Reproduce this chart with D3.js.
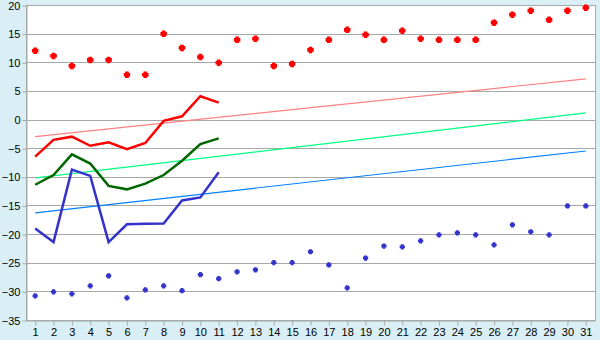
<!DOCTYPE html>
<html>
<head>
<meta charset="utf-8">
<script src="https://cdn.jsdelivr.net/npm/d3@7"></script>
<style>
  body { margin: 0; background: #d9eff5; }
  svg { display: block; font-family: "DejaVu Sans", Verdana, sans-serif; }
  .axis text { font-size: 11px; fill: #000; }
  .axis line, .axis path { stroke: #a8a8a8; }
</style>
</head>
<body>
<div id="chart"></div>
<script>
// days 1..31
const days = d3.range(1, 32);
const yTicks = [-35, -30, -25, -20, -15, -10, -5, 0, 5, 10, 15, 20];

// daily highs (scatter, red)
const redDots = [12.1, 11.2, 9.45, 10.5, 10.5, 7.9, 7.9, 15.05, 12.6, 11.0, 10.0,
  14.0, 14.2, 9.45, 9.8, 12.25, 14.0, 15.75, 14.9, 14.0, 15.6, 14.2, 14.0, 14.0,
  14.0, 17.0, 18.4, 19.1, 17.5, 19.1, 19.6];
// daily lows (scatter, blue)
const blueDots = [-30.7, -30.0, -30.35, -28.95, -27.2, -31.05, -29.65, -28.95, -29.8,
  -27.0, -27.7, -26.5, -26.15, -24.9, -24.9, -23.0, -25.3, -29.3, -24.1, -22.0,
  -22.15, -21.1, -20.05, -19.7, -20.05, -21.8, -18.3, -19.5, -20.05, -15.0, -15.0];

// lines for days 1..11
const redLine = [-6.4, -3.45, -2.9, -4.5, -3.9, -5.1, -4.0, -0.15, 0.65, 4.15, 3.05];
const greenLine = [-11.3, -9.6, -6.0, -7.6, -11.5, -12.1, -11.1, -9.6, -7.1, -4.2, -3.2];
const blueLine = [-18.95, -21.3, -8.65, -9.75, -21.3, -18.2, -18.1, -18.05, -14.05, -13.5, -9.1];

// trend lines: value at day 1 and day 31
const pinkTrend = [-2.9, 7.2];
const greenTrend = [-10.1, 1.25];
const blueTrend = [-16.2, -5.4];

const width = 600, height = 340;
const margin = { top: 5, right: 5, bottom: 20, left: 26 };

const svg = d3.select('#chart').append('svg')
  .attr('width', width)
  .attr('height', height);

const xScale = d3.scalePoint()
  .domain(days)
  .range([margin.left, width - margin.right])
  .padding(0.5);

const yScale = d3.scaleLinear()
  .domain([-35, 20])
  .range([height - margin.bottom + 0.5, margin.top + 0.5]);

// plot background
svg.append('rect')
  .attr('x', margin.left + 0.5)
  .attr('y', margin.top + 0.5)
  .attr('width', width - margin.right - margin.left)
  .attr('height', height - margin.bottom - margin.top)
  .attr('fill', '#fff')
  .attr('stroke', '#a8a8a8');

// gridlines
svg.append('g')
  .selectAll('line')
  .data(yTicks)
  .join('line')
  .attr('x1', margin.left + 0.5)
  .attr('x2', width - margin.right + 0.5)
  .attr('y1', (d) => Math.round(yScale(d) - 0.5) + 0.5)
  .attr('y2', (d) => Math.round(yScale(d) - 0.5) + 0.5)
  .attr('stroke', '#a8a8a8');

// axes
svg.append('g')
  .attr('class', 'axis')
  .attr('transform', `translate(${margin.left + 0.5},0)`)
  .call(d3.axisLeft(yScale).tickValues(yTicks).tickSize(4).tickSizeOuter(0).tickPadding(2));

svg.append('g')
  .attr('class', 'axis')
  .attr('transform', `translate(0,${height - margin.bottom + 0.5})`)
  .call(d3.axisBottom(xScale).tickSize(5).tickSizeOuter(0).tickPadding(3));

// trend lines
const trends = [
  { vals: pinkTrend, color: '#ff8080' },
  { vals: greenTrend, color: '#00ff80' },
  { vals: blueTrend, color: '#0080ff' }
];
svg.append('g')
  .selectAll('line')
  .data(trends)
  .join('line')
  .attr('x1', xScale(days[0]))
  .attr('x2', xScale(days[days.length - 1]))
  .attr('y1', (d) => yScale(d.vals[0]))
  .attr('y2', (d) => yScale(d.vals[1]))
  .attr('stroke', (d) => d.color)
  .attr('stroke-width', 1.2);

// main lines
const line = d3.line()
  .x((d, i) => xScale(days[i]))
  .y((d) => yScale(d));

const series = [
  { vals: redLine, color: '#ff0000' },
  { vals: greenLine, color: '#006600' },
  { vals: blueLine, color: '#3333cc' }
];
svg.append('g')
  .selectAll('path')
  .data(series)
  .join('path')
  .attr('d', (d) => line(d.vals))
  .attr('fill', 'none')
  .attr('stroke', (d) => d.color)
  .attr('stroke-width', 2.5);

// fat plus marker: size is the full width in px
const fatPlus = {
  draw(context, size) {
    const r = size / 2, a = size * 0.28;
    context.moveTo(-a, -r);
    context.lineTo(a, -r);
    context.lineTo(a, -a);
    context.lineTo(r, -a);
    context.lineTo(r, a);
    context.lineTo(a, a);
    context.lineTo(a, r);
    context.lineTo(-a, r);
    context.lineTo(-a, a);
    context.lineTo(-r, a);
    context.lineTo(-r, -a);
    context.lineTo(-a, -a);
    context.closePath();
  }
};
const redSym = d3.symbol().type(fatPlus).size(6.5);
const blueSym = d3.symbol().type(fatPlus).size(5.2);

svg.append('g')
  .selectAll('path')
  .data(redDots)
  .join('path')
  .attr('transform', (d, i) => `translate(${xScale(days[i])},${yScale(d)})`)
  .attr('d', redSym)
  .attr('fill', '#ff0000');

svg.append('g')
  .selectAll('path')
  .data(blueDots)
  .join('path')
  .attr('transform', (d, i) => `translate(${xScale(days[i])},${yScale(d)})`)
  .attr('d', blueSym)
  .attr('fill', '#3333cc');
</script>
</body>
</html>
